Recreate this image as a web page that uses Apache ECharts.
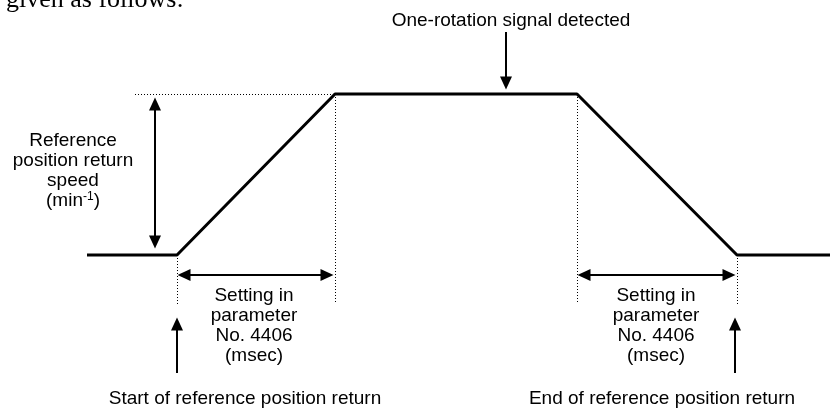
<!DOCTYPE html>
<html>
<head>
<meta charset="utf-8">
<script src="https://cdn.jsdelivr.net/npm/echarts@6/dist/echarts.min.js"></script>
<style>
  html, body { margin: 0; padding: 0; background: #fff; }
  #chart { width: 830px; height: 410px; }
</style>
</head>
<body>
<div id="chart"></div>
<script>
// speed profile: time points and speed at each point (diagram units)
const timePoints = [87, 177, 335, 577, 737, 830];
const speedValues = [0, 0, 161, 161, 0, 0];

const tStart = timePoints[1];
const tAccEnd = timePoints[2];
const tDecStart = timePoints[3];
const tEnd = timePoints[4];
const vHigh = speedValues[2];
const vLow = speedValues[0];

const FONT = '"Liberation Sans", Arial, sans-serif';
const black = '#000';

// helper for marker lines
function seg(p1, p2, s1, s2, style) {
  return [
    { coord: p1, symbol: s1 },
    { coord: p2, symbol: s2, lineStyle: style }
  ];
}
const arrowStyle = { color: black, width: 2, type: 'solid' };
const dotStyle = { color: black, width: 1, type: [1, 2] };

const chart = echarts.init(document.getElementById('chart'));
chart.setOption({
  animation: false,
  backgroundColor: '#fff',
  grid: { left: 0, right: 0, top: 0, bottom: 0 },
  xAxis: { type: 'value', min: 0, max: 830, show: false },
  yAxis: { type: 'value', min: -155, max: 255, show: false },
  series: [
    {
      type: 'line',
      data: timePoints.map((t, i) => [t, speedValues[i]]),
      showSymbol: false,
      lineStyle: { color: black, width: 3 },
      silent: true,
      markLine: {
        silent: true,
        symbolSize: [12, 13],
        label: { show: false },
        emphasis: { disabled: true },
        itemStyle: { color: black },
        data: [
          // dotted guides
          seg([135, vHigh], [tAccEnd, vHigh], 'none', 'none', dotStyle),
          seg([tStart, vLow], [tStart, -49], 'none', 'none', dotStyle),
          seg([tAccEnd, vHigh], [tAccEnd, -49], 'none', 'none', dotStyle),
          seg([tDecStart, vHigh], [tDecStart, -49], 'none', 'none', dotStyle),
          seg([tEnd, vLow], [tEnd, -49], 'none', 'none', dotStyle),
          // speed double arrow
          seg([155, vHigh - 10], [155, vLow + 13], 'triangle', 'triangle', arrowStyle),
          // accel / decel time arrows
          seg([tStart + 7, -20], [tAccEnd - 8, -20], 'triangle', 'triangle', arrowStyle),
          seg([tDecStart + 7, -20], [tEnd - 8, -20], 'triangle', 'triangle', arrowStyle),
          // one-rotation signal arrow
          seg([506, 223], [506, vHigh + 11], 'none', 'triangle', arrowStyle),
          // start / end arrows
          seg([tStart, -118], [tStart, -69], 'none', 'triangle', arrowStyle),
          seg([735, -118], [735, -69], 'none', 'triangle', arrowStyle)
        ]
      }
    }
  ],
  graphic: [
    {
      type: 'text', left: 6, top: -13, silent: true,
      style: { text: 'given as follows:', font: '26px "Liberation Serif", "Times New Roman", serif', fill: black }
    },
    {
      type: 'text', x: 511, y: 11, silent: true,
      style: { text: 'One-rotation signal detected', font: '19px ' + FONT, fill: black, align: 'center', verticalAlign: 'top' }
    },
    {
      type: 'text', x: 73, y: 131, silent: true,
      style: {
        text: 'Reference\nposition return\nspeed\n{a|(min}{s|-1}{a|)}',
        font: '19px ' + FONT, lineHeight: 20, fill: black, align: 'center', verticalAlign: 'top',
        rich: {
          a: { font: '19px ' + FONT, lineHeight: 20, fill: black },
          s: { font: '12px ' + FONT, lineHeight: 20, fill: black, verticalAlign: 'top' }
        }
      }
    },
    {
      type: 'text', x: 254, y: 286, silent: true,
      style: { text: 'Setting in\nparameter\nNo. 4406\n(msec)', font: '19px ' + FONT, lineHeight: 20, fill: black, align: 'center', verticalAlign: 'top' }
    },
    {
      type: 'text', x: 656, y: 286, silent: true,
      style: { text: 'Setting in\nparameter\nNo. 4406\n(msec)', font: '19px ' + FONT, lineHeight: 20, fill: black, align: 'center', verticalAlign: 'top' }
    },
    {
      type: 'text', x: 245, y: 389, silent: true,
      style: { text: 'Start of reference position return', font: '19px ' + FONT, fill: black, align: 'center', verticalAlign: 'top' }
    },
    {
      type: 'text', x: 662, y: 389, silent: true,
      style: { text: 'End of reference position return', font: '19px ' + FONT, fill: black, align: 'center', verticalAlign: 'top' }
    }
  ]
});
</script>
</body>
</html>
